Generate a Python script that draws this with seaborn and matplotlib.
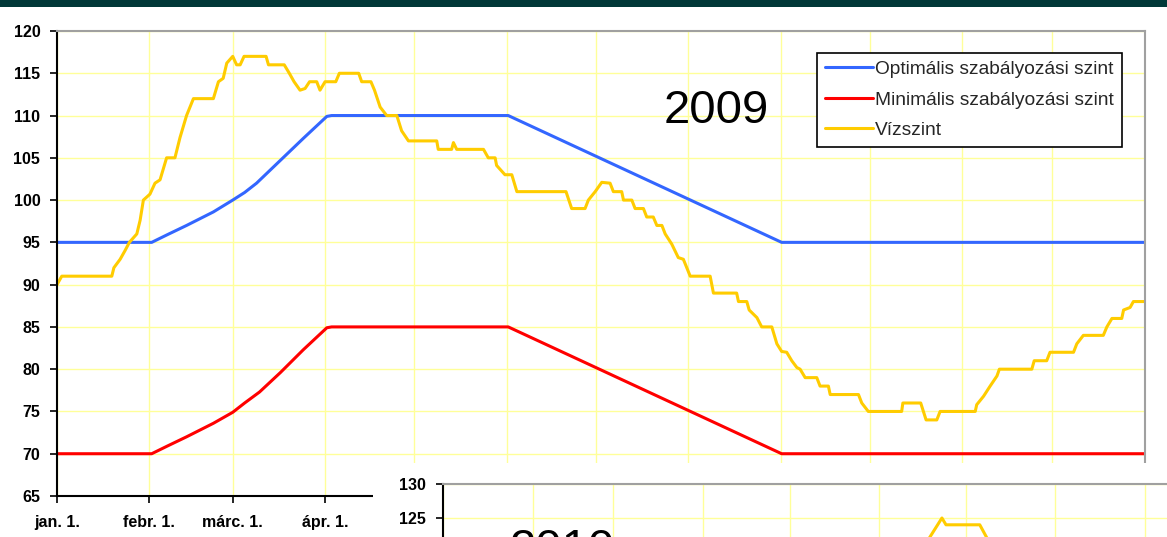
import numpy as np
import pandas as pd
import seaborn as sns
import matplotlib.pyplot as plt
from matplotlib.patches import Rectangle

sns.set_theme(style="white")
plt.rcParams['font.family'] = ['Liberation Sans', 'DejaVu Sans']

# hónapok eleje (az év napja)
honap_napok = [0, 31, 59, 90, 120, 151, 181, 212, 243, 273, 304, 334]
# a 2010-es diagram takarja a többi feliratot, ezért csak az első négy látszik
honap_cimkek = ['jan. 1.', 'febr. 1.', 'márc. 1.', 'ápr. 1.', '', '', '', '', '', '', '', '']

# 2009 - optimális szabályozási szint
opt_napok = [0, 31.8, 37, 43.5, 52.5, 59, 63, 67, 75, 82.7, 90.6, 92.2, 151.5, 243.3, 365.3]
opt_ertek = [95, 95, 95.9, 97.0, 98.6, 100, 100.9, 102, 104.7, 107.3, 109.9, 110, 110, 95, 95]

# 2009 - minimális szabályozási szint
min_napok = [0, 31.8, 37, 43.5, 52.5, 59, 63, 68, 75, 82.7, 90.6, 92.2, 151.5, 243.3, 365.3]
min_ertek = [70, 70, 70.9, 72.0, 73.6, 74.9, 76.0, 77.3, 79.6, 82.3, 84.9, 85, 85, 70, 70]

# 2009 - vízszint
viz_napok = [0, 1.6, 18.4, 19.1, 21.2, 22.8, 24.3, 26.8, 27.9, 29.0, 31.2, 32.9, 34.6,
             36.8, 39.6, 41.3, 43.5, 45.8, 52.5, 54.2, 55.8, 57.0, 59.0, 60.3, 61.5,
             62.8, 70.2, 71.0, 76.3, 78.0, 79.6, 81.6, 83.3, 84.8, 87.2, 88.3, 90.0,
             93.6, 94.8, 101.3, 102.3, 105.4, 106.6, 108.5, 110.7, 114.1, 115.7, 118.0,
             127.5, 128.0, 132.5, 133.1, 134.2, 143.2, 144.8, 147.1, 147.6, 150.4,
             152.7, 154.4, 170.9, 172.8, 177.3, 178.4, 180.7, 182.9, 185.7, 186.8,
             189.6, 190.2, 193.0, 194.1, 196.9, 198.0, 200.2, 201.4, 203.1, 204.2,
             206.4, 208.6, 210.3, 212.6, 219.3, 220.4, 228.2, 228.8, 231.6, 232.4,
             235.0, 236.6, 240.0, 241.7, 243.3, 245.0, 246.7, 248.4, 249.5, 251.2,
             255.1, 256.2, 259.0, 259.6, 269.1, 270.2, 272.4, 283.6, 284.0, 290.0,
             291.8, 295.4, 296.5, 308.3, 308.8, 311.1, 313.3, 315.6, 316.4, 327.3,
             328.1, 332.3, 333.4, 341.3, 342.4, 344.6, 351.3, 352.5, 354.2, 357.5,
             358.1, 360.3, 361.4, 365.3]
viz_ertek = [90, 91, 91, 92, 93, 94, 95, 96, 97.6, 100, 100.7, 102, 102.4,
             105, 105, 107.4, 110, 112, 112, 114, 114.4, 116.2, 117, 116, 116,
             117, 117, 116, 116, 115, 114, 113, 113.2, 114, 114, 113, 114,
             114, 115, 115, 114, 114, 113, 111, 110, 110, 108.2, 107,
             107, 106, 106, 106.8, 106, 106, 105, 105, 104.1, 103,
             103, 101, 101, 99, 99, 100, 101, 102.1, 102, 101,
             101, 100, 100, 99, 99, 98, 98, 97, 97, 96,
             94.8, 93.2, 93, 91, 91, 89, 89, 88, 88, 87,
             86.1, 85, 85, 83, 82.1, 82, 81, 80.2, 80, 79,
             79, 78, 78, 77, 77, 76, 75, 75, 76, 76,
             74, 74, 75, 75, 75.8, 76.8, 78, 79.2, 80, 80,
             81, 81, 82, 82, 83, 84, 84, 85, 86, 86,
             87, 87.3, 88, 88]

# 2010 - vízszint (csak a látható rész)
viz10_napok = [167.5, 172.7, 174.1, 185.8, 189.0]
viz10_ertek = [121.5, 125, 124, 124, 121.5]
# a 2010-es tengelyen csak a 125 és 130 látszik
ytick10 = list(range(60, 131, 5))
ytick10_cimkek = ['' if t < 125 else str(t) for t in ytick10]

kek = '#3366ff'
piros = '#ff0000'
sarga = '#ffcc00'
racs = '#ffff99'

fig = plt.figure(figsize=(11.67, 5.37), dpi=100)


def formaz(ax, yticks, ycimkek, xcimkek):
    ax.set_facecolor('white')
    ax.set_xticks(honap_napok, xcimkek, fontweight='bold')
    ax.set_yticks(yticks, ycimkek, fontweight='bold')
    ax.grid(True, color=racs, linewidth=1.0)
    ax.tick_params(axis='both', direction='out', length=5, width=1.2,
                   color='black', labelsize=11.5, labelcolor='black',
                   bottom=True, left=True)
    ax.tick_params(axis='x', pad=9)
    ax.tick_params(axis='y', pad=7)
    for s in ['left', 'bottom']:
        ax.spines[s].set_color('black')
        ax.spines[s].set_linewidth(1.5)
    for s in ['top', 'right']:
        ax.spines[s].set_color('#a0a0a0')
        ax.spines[s].set_linewidth(1.5)
    ax.set_xlabel('')
    ax.set_ylabel('')


# --- 2009 ---
ax = fig.add_axes([57 / 1167, 1 - 496 / 537, 1088 / 1167, 465 / 537])
ax.set_zorder(0)
sns.lineplot(x=opt_napok, y=opt_ertek, ax=ax, color=kek, linewidth=2.2,
             sort=False, estimator=None, label='Optimális szabályozási szint')
sns.lineplot(x=min_napok, y=min_ertek, ax=ax, color=piros, linewidth=2.2,
             sort=False, estimator=None, label='Minimális szabályozási szint')
sns.lineplot(x=viz_napok, y=viz_ertek, ax=ax, color=sarga, linewidth=2.2,
             sort=False, estimator=None, label='Vízszint')
ax.set_xlim(0, 365.3)
ax.set_ylim(65, 120)
ytick09 = list(range(65, 121, 5))
formaz(ax, ytick09, [str(t) for t in ytick09], honap_cimkek)
leg = ax.legend(loc='upper right', bbox_to_anchor=(0.9785, 0.9533),
                borderaxespad=0, frameon=True, fancybox=False, edgecolor='black',
                framealpha=1, fontsize=13.8, handlelength=2.5, handletextpad=0.12,
                borderpad=0.42, labelspacing=0.68)
leg.get_frame().set_linewidth(1.2)

fig.text(716.5 / 1167, 1 - 123.3 / 537, '2009', fontsize=34, ha='center',
         va='baseline', color='black', zorder=3)

# fehér háttér a 2010-es diagram alatt
also_szel = 1 - 463 / 537
fig.add_artist(Rectangle((373 / 1167, -1), 1, 1 + also_szel,
                         transform=fig.transFigure, facecolor='white',
                         edgecolor='none', zorder=1))

# --- 2010 ---
px_nap = 2.889
ax2 = fig.add_axes([443 / 1167, 1 - (484 + 70 * 6.8) / 537,
                    365 * px_nap / 1167, 70 * 6.8 / 537])
ax2.set_zorder(2)
sns.lineplot(x=viz10_napok, y=viz10_ertek, ax=ax2, color=sarga, linewidth=2.2,
             sort=False, estimator=None, legend=False)
ax2.set_xlim(0, 365)
ax2.set_ylim(60, 130)
formaz(ax2, ytick10, ytick10_cimkek, [''] * 12)

fig.text(562.5 / 1167, 1 - 562 / 537, '2010', fontsize=34, ha='center',
         va='baseline', color='black', zorder=3)

# sötét sáv felül
fig.add_artist(Rectangle((0, 1 - 7 / 537), 1, 7 / 537, transform=fig.transFigure,
                         facecolor='#013838', edgecolor='none', zorder=5))

fig.savefig('out.png', dpi=100)
